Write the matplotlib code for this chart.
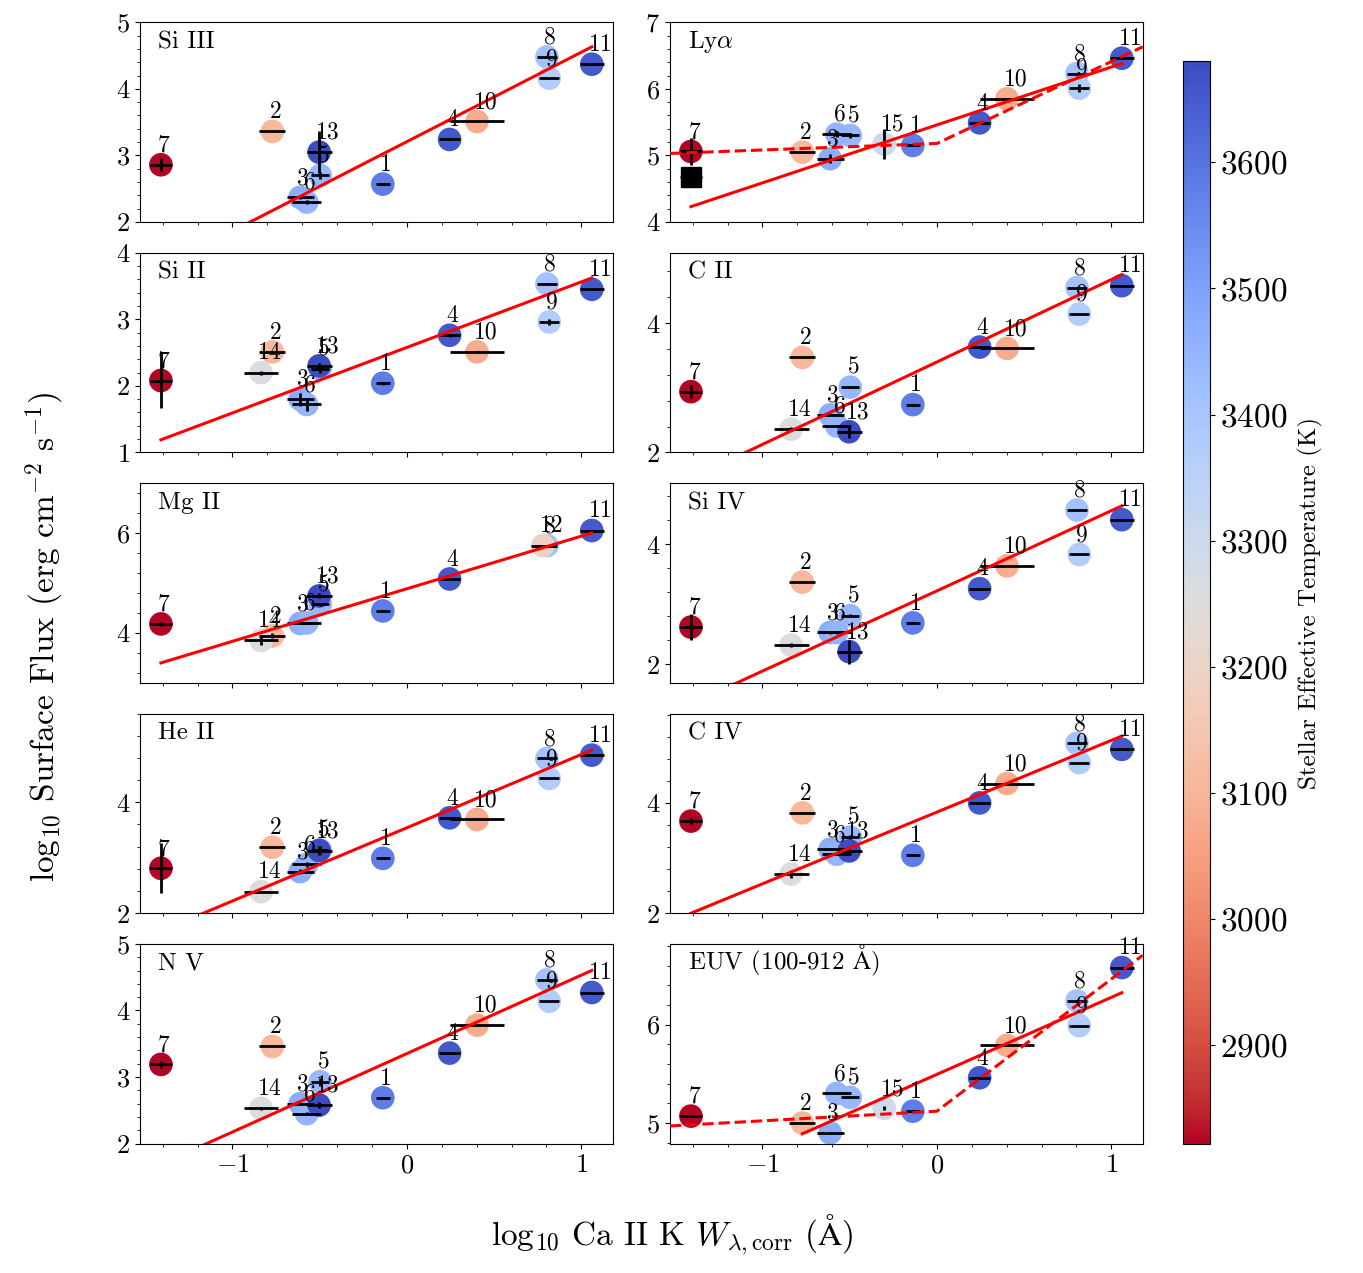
import numpy as np
import matplotlib
matplotlib.use("Agg")
import matplotlib.pyplot as plt
from matplotlib.ticker import AutoMinorLocator, MultipleLocator

plt.rcParams["font.family"] = ["cmr10", "DejaVu Serif"]
plt.rcParams["mathtext.fontset"] = "cm"
plt.rcParams["axes.formatter.use_mathtext"] = True

nan = np.nan

# stars 1..15
star_ids = np.arange(1, 16)
ca_k_logw = np.array([-0.138, -0.771, -0.612, 0.245, -0.497, -0.574, -1.41, 0.803,
                      0.816, 0.402, 1.06, 0.78, -0.503, -0.836, -0.302])
ca_k_err = np.array([0.04, 0.074, 0.077, 0.061, 0.05, 0.084, 0.065, 0.055,
                     0.057, 0.155, 0.069, 0.07, 0.072, 0.10, 0.005])
teff = np.array([3580, 3110, 3470, 3655, 3440, 3450, 2822, 3410,
                 3370, 3080, 3650, 3190, 3680, 3260, 3300])

# log10 surface flux per line (nan = not measured)
si3_flux = [2.57, 3.36, 2.37, 3.24, 2.70, 2.30, 2.86, 4.48, 4.16, 3.51, 4.37, nan, 3.05, nan, nan]
si3_err = [0.01, 0.01, 0.02, 0.01, 0.05, 0.03, 0.10, 0.01, 0.01, 0.01, 0.01, 0, 0.31, 0, 0]
lya_flux = [5.15, 5.05, 4.95, 5.49, 5.30, 5.32, 5.06, 6.23, 6.01, 5.85, 6.46, nan, nan, nan, 5.17]
lya_err = [0.01, 0.02, 0.07, 0.02, 0.04, 0.05, 0.20, 0.01, 0.06, 0.01, 0.01, 0, 0, 0, 0.22]
si2_flux = [2.04, 2.51, 1.80, 2.76, 2.26, 1.72, 2.08, 3.53, 2.96, 2.51, 3.45, nan, 2.30, 2.20, nan]
si2_err = [0.02, 0.02, 0.10, 0.02, 0.06, 0.10, 0.42, 0.01, 0.05, 0.02, 0.01, 0, 0.04, 0.03, 0]
c2_flux = [2.74, 3.47, 2.58, 3.63, 3.01, 2.41, 2.94, 4.55, 4.14, 3.61, 4.58, nan, 2.32, 2.36, nan]
c2_err = [0.01, 0.01, 0.01, 0.01, 0.01, 0.02, 0.10, 0.01, 0.01, 0.01, 0.01, 0, 0.10, 0.03, 0]
mg2_flux = [4.44, 3.94, 4.19, 5.08, 4.57, 4.20, 4.18, 5.75, nan, nan, 6.05, 5.75, 4.74, 3.85, nan]
mg2_err = [0.01, 0.05, 0.01, 0.01, 0.03, 0.01, 0.04, 0.01, 0, 0, 0.02, 0.02, 0.05, 0.09, 0]
si4_flux = [2.69, 3.37, 2.53, 3.26, 2.81, 2.53, 2.62, 4.57, 3.83, 3.64, 4.41, nan, 2.21, 2.32, nan]
si4_err = [0.01, 0.01, 0.02, 0.01, 0.03, 0.02, 0.22, 0.01, 0.01, 0.01, 0.01, 0, 0.20, 0.03, 0]
he2_flux = [2.99, 3.19, 2.75, 3.72, 3.14, 2.88, 2.81, 4.79, 4.43, 3.69, 4.85, nan, 3.13, 2.39, nan]
he2_err = [0.01, 0.01, 0.05, 0.01, 0.08, 0.05, 0.45, 0.01, 0.01, 0.01, 0.01, 0, 0.08, 0.01, 0]
c4_flux = [3.05, 3.82, 3.16, 4.00, 3.38, 3.07, 3.67, 5.08, 4.73, 4.35, 4.97, nan, 3.13, 2.71, nan]
c4_err = [0.01, 0.01, 0.02, 0.01, 0.04, 0.02, 0.06, 0.01, 0.01, 0.01, 0.01, 0, 0.06, 0.08, 0]
n5_flux = [2.69, 3.46, 2.60, 3.36, 2.93, 2.45, 3.19, 4.46, 4.14, 3.78, 4.27, nan, 2.58, 2.53, nan]
n5_err = [0.01, 0.01, 0.01, 0.01, 0.06, 0.02, 0.05, 0.01, 0.01, 0.01, 0.01, 0, 0.04, 0.02, 0]
euv_flux = [5.12, 5.00, 4.90, 5.46, 5.26, 5.30, 5.07, 6.24, 5.99, 5.79, 6.58, nan, nan, nan, 5.15]
euv_err = [0.01, 0.01, 0.01, 0.01, 0.01, 0.01, 0.01, 0.01, 0.01, 0.01, 0.01, 0, 0, 0, 0.02]

# extra Lya point for star 7
lya_alt_flux = 4.67

# linear fits: slope, intercept, first x
fit_slope = [1.343, 0.870, 0.984, 1.275, 1.053, 1.337, 1.320, 1.300, 1.178, 0.783]
fit_icpt = [3.207, 5.458, 2.577, 3.399, 4.884, 3.223, 3.541, 3.833, 3.353, 5.494]
fit_x0 = [-1.41, -1.41, -1.41, -1.41, -1.41, -1.41, -1.41, -1.41, -1.41, -0.771]

# broken (dashed) fits for Lya and EUV: left slope, y at break, right slope
brk_x = 0.0
lya_brk = (0.098, 5.18, 1.23)
euv_brk = (0.098, 5.12, 1.343)

names = ["Si III", r"Ly$\alpha$", "Si II", "C II", "Mg II", "Si IV", "He II", "C IV",
         "N V", r"EUV (100-912 $\mathrm{\AA}$)"]
fluxes = [si3_flux, lya_flux, si2_flux, c2_flux, mg2_flux, si4_flux, he2_flux, c4_flux,
          n5_flux, euv_flux]
errs = [si3_err, lya_err, si2_err, c2_err, mg2_err, si4_err, he2_err, c4_err, n5_err, euv_err]
ylims = [(2, 5), (4, 7), (1, 4), (2, 5.09), (3.0, 7.0), (1.69, 5.02), (2, 5.6), (2, 5.62),
         (2, 5), (4.79, 6.82)]
ysteps = [1, 1, 1, 2, 2, 2, 2, 2, 1, 1]

tmin, tmax = 2822, 3680
cmap = "coolwarm_r"

fig, axes = plt.subplots(5, 2, figsize=(13.63, 12.73), dpi=100, sharex=True)
fig.subplots_adjust(left=0.1027, right=0.8384, top=0.9825, bottom=0.1016,
                    wspace=0.1212, hspace=0.1535)

for i, ax in enumerate(axes.flat):
    y = np.array(fluxes[i], dtype=float)
    ye = np.array(errs[i], dtype=float)
    ok = ~np.isnan(y)
    sc = ax.scatter(ca_k_logw[ok], y[ok], c=teff[ok], cmap=cmap, vmin=tmin, vmax=tmax,
                    s=290, edgecolors="none", zorder=2)
    ax.errorbar(ca_k_logw[ok], y[ok], xerr=ca_k_err[ok], yerr=ye[ok], fmt="none",
                ecolor="black", elinewidth=2, capsize=0, zorder=3)
    for sid, xv, yv in zip(star_ids[ok], ca_k_logw[ok], y[ok]):
        ax.annotate(str(sid), (xv, yv), xytext=(-2, 9.5), textcoords="offset points",
                    ha="left", va="baseline", fontsize=17, zorder=5)

    xs = np.array([fit_x0[i], ca_k_logw[ok].max()])
    ax.plot(xs, fit_slope[i] * xs + fit_icpt[i], color="red", lw=2.2, zorder=4)

    ax.text(0.039, 0.87, names[i], transform=ax.transAxes, fontsize=18, va="baseline")

    ax.set_xlim(-1.53, 1.18)
    ax.set_ylim(*ylims[i])
    ax.yaxis.set_major_locator(MultipleLocator(ysteps[i]))
    ax.xaxis.set_major_locator(MultipleLocator(1))
    ax.xaxis.set_minor_locator(AutoMinorLocator(5))
    ax.yaxis.set_minor_locator(AutoMinorLocator(5))
    ax.tick_params(labelsize=19)

# dashed broken fits
for ax, (s1, yb, s2) in [(axes[0, 1], lya_brk), (axes[4, 1], euv_brk)]:
    xl = np.array([-1.53, brk_x, 1.18])
    yl = np.array([yb + s1 * (xl[0] - brk_x), yb, yb + s2 * (xl[2] - brk_x)])
    ax.plot(xl, yl, color="red", lw=2.2, ls="--", zorder=4)

# alternative Lya value for star 7
axes[0, 1].errorbar(ca_k_logw[6], lya_alt_flux, xerr=ca_k_err[6], yerr=0.05, fmt="s",
                    color="black", ms=14, elinewidth=2, capsize=0, zorder=3)

cax = fig.add_axes([0.868, 0.1017, 0.0198, 0.850])
cb = fig.colorbar(sc, cax=cax)
cb.set_ticks([2900, 3000, 3100, 3200, 3300, 3400, 3500, 3600])
cb.ax.tick_params(labelsize=24)
cb.set_label("Stellar Effective Temperature (K)", fontsize=18, labelpad=8)

fig.text(0.033, 0.5, r"log$_{10}$ Surface Flux (erg cm$^{-2}$ s$^{-1}$)", rotation=90,
         ha="center", va="center", fontsize=24)
fig.text(0.493, 0.03, r"log$_{10}$ Ca II K $W_{\lambda,\rm corr}$ ($\mathrm{\AA}$)",
         ha="center", va="center", fontsize=24)

fig.savefig("out.png", dpi=100)
